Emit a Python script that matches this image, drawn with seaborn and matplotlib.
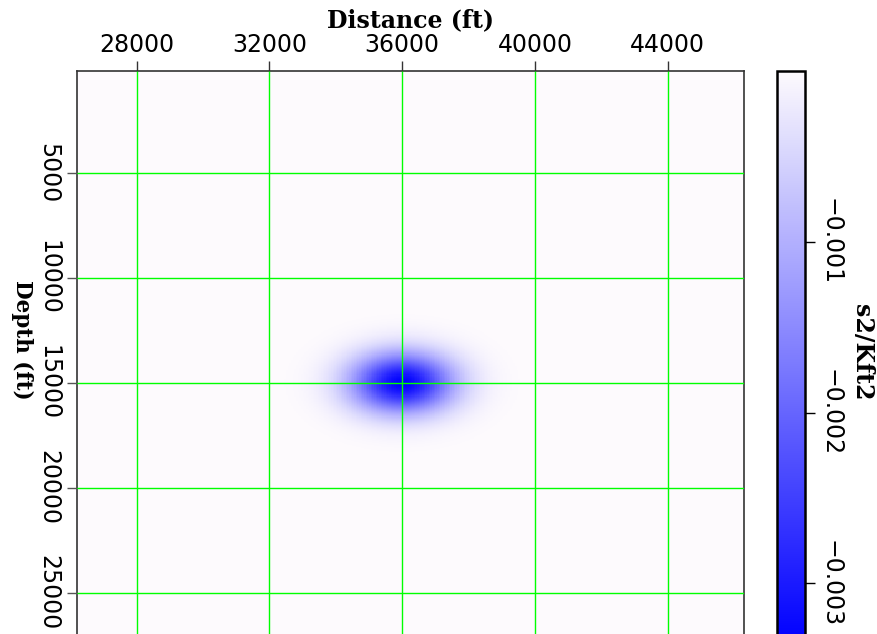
import numpy as np
import matplotlib
matplotlib.use("Agg")
import matplotlib.pyplot as plt
from matplotlib.colors import LinearSegmentedColormap
import seaborn as sns

# Model grid (ft)
distance_range = [26200, 46300]
depth_range = [150, 27300]
cell_size = 50

# Slowness-squared perturbation: one Gaussian anomaly
anomaly_center = [36000, 15000]   # distance, depth (ft)
anomaly_sigma = [1060, 990]       # distance, depth (ft)
anomaly_peak = -0.00335           # s2/Kft2

distance_ticks = [28000, 32000, 36000, 40000, 44000]
depth_ticks = [5000, 10000, 15000, 20000, 25000]
cbar_ticks = [-0.001, -0.002, -0.003]
cbar_ticklabels = ["\u22120.001", "\u22120.002", "\u22120.003"]

x_edges = np.arange(distance_range[0], distance_range[1] + cell_size / 2, cell_size)
z_edges = np.arange(depth_range[0], depth_range[1] + cell_size / 2, cell_size)
x_mid = 0.5 * (x_edges[:-1] + x_edges[1:])
z_mid = 0.5 * (z_edges[:-1] + z_edges[1:])
X, Z = np.meshgrid(x_mid, z_mid)
field = anomaly_peak * np.exp(
    -0.5 * ((X - anomaly_center[0]) / anomaly_sigma[0]) ** 2
    - 0.5 * ((Z - anomaly_center[1]) / anomaly_sigma[1]) ** 2
)


def ix(x):
    return (x - distance_range[0]) / cell_size


def iz(z):
    return (z - depth_range[0]) / cell_size


sns.set_theme(style="white")
plt.rcParams["font.family"] = ["DejaVu Sans"]

W, H = 877, 634
fig = plt.figure(figsize=(W / 100, H / 100), dpi=100)


def fig_rect(left, top, width, height):
    return [left / W, 1 - (top + height) / H, width / W, height / H]


px_per_ft = 105 / 5000
ax_h = (depth_range[1] - depth_range[0]) * px_per_ft
ax = fig.add_axes(fig_rect(77, 71, 667, ax_h))
cb_h = abs(anomaly_peak) * 170.8e3
cax = fig.add_axes(fig_rect(777, 71, 28, cb_h))

# blue -> faint off-white of the empty model
cmap = LinearSegmentedColormap.from_list("blue_white", ["#0000ff", "#fdfafd"])
sns.heatmap(field, ax=ax, cbar_ax=cax, cmap=cmap, vmin=anomaly_peak, vmax=0,
            xticklabels=False, yticklabels=False, rasterized=True)

# Axes frame and ticks
for s in ["top", "left", "right", "bottom"]:
    ax.spines[s].set_visible(True)
    ax.spines[s].set_color("#333333")
    ax.spines[s].set_linewidth(1.2)

ax.xaxis.tick_top()
ax.xaxis.set_label_position("top")
ax.set_xticks([ix(v) for v in distance_ticks])
ax.set_xticklabels([str(v) for v in distance_ticks], rotation=0)
ax.set_yticks([iz(v) for v in depth_ticks])
ax.set_yticklabels([str(v) for v in depth_ticks], rotation=-90, va="center", ha="right")
ax.tick_params(axis="x", top=True, bottom=False, length=7, width=1, color="#333333",
               pad=3, labelsize=17, labelcolor="black")
ax.tick_params(axis="y", left=True, right=False, length=7, width=1, color="#555555",
               pad=5, labelsize=17, labelcolor="black")

ax.set_axisbelow(False)
ax.grid(True, color="#00ff00", linewidth=1.0)

label_font = dict(family="DejaVu Serif", weight="bold", color="black")
ax.set_xlabel("Distance (ft)", size=17, **label_font)
ax.xaxis.label.set_va("center")
ax.xaxis.set_label_coords(0.5, 1 + (71 - 20.5) / ax_h)
ax.set_ylabel("Depth (ft)", rotation=-90, size=15.5, **label_font)
ax.yaxis.label.set_rotation_mode("default")
ax.yaxis.label.set_va("center")
ax.yaxis.label.set_ha("center")
ax.yaxis.set_label_coords((22 - 77) / 667, 1 - (340 - 71) / ax_h)

# Colorbar
cb = ax.collections[0].colorbar
cb.outline.set_visible(True)
cb.outline.set_linewidth(1.8)
cb.outline.set_edgecolor("black")
cb.set_ticks(cbar_ticks)
cb.set_ticklabels(cbar_ticklabels)
cax.tick_params(axis="y", right=True, length=7, width=1, color="black", pad=3,
                labelsize=17, labelcolor="black")
for t in cax.get_yticklabels():
    t.set_rotation(-90)
    t.set_va("center")
    t.set_ha("left")
cax.yaxis.set_label_position("right")
cax.set_ylabel("s2/Kft2", rotation=-90, size=17, **label_font)
cax.yaxis.label.set_rotation_mode("default")
cax.yaxis.label.set_va("center")
cax.yaxis.label.set_ha("center")
cax.yaxis.set_label_coords((862 - 777) / 28, (cb_h - (352 - 71)) / cb_h)

fig.savefig("out.png", dpi=100)
